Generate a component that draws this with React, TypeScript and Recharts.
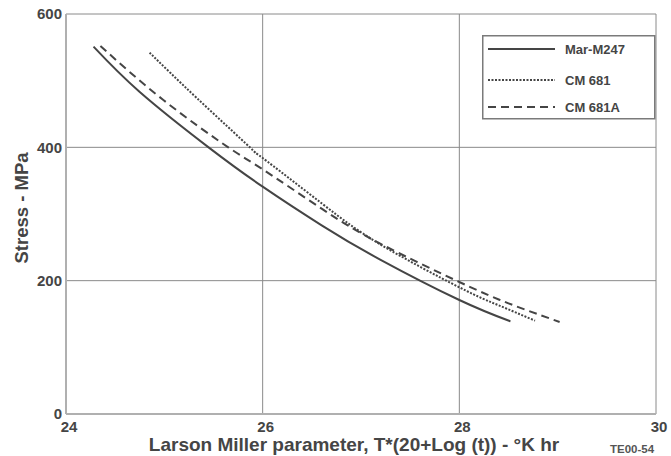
import { type FC } from "react";
import {
  LineChart,
  CartesianGrid,
  XAxis,
  YAxis,
  Line,
} from "recharts";

// Larson Miller parameter (x) vs stress in MPa (y)
const marM247Lmp = [24.28, 24.75, 25.45, 26.0, 26.6, 27.19, 28.0, 28.52];
const marM247Stress = [551, 483, 400, 341, 283, 232, 171, 139];

const cm681Lmp = [24.85, 25.33, 25.87, 26.0, 26.6, 27.19, 28.0, 28.4, 28.77];
const cm681Stress = [542, 474, 400, 384, 316, 255, 190, 163, 140];

const cm681aLmp = [24.35, 24.99, 25.65, 26.0, 26.6, 27.19, 28.0, 28.5, 29.02];
const cm681aStress = [552, 471, 400, 367, 308, 256, 198, 166, 138];

const xTicks = [24, 26, 28, 30];
const yTicks = [0, 200, 400, 600];

const toPoints = (xs: number[], ys: number[]) =>
  xs.map((x, i) => ({ x, y: ys[i] }));

const series = [
  { name: "Mar-M247", data: toPoints(marM247Lmp, marM247Stress), dash: undefined },
  { name: "CM 681", data: toPoints(cm681Lmp, cm681Stress), dash: "2 1.5" },
  { name: "CM 681A", data: toPoints(cm681aLmp, cm681aStress), dash: "8 5" },
];

const ink = "#454545";
const font = "'Liberation Sans', Arial, sans-serif";

// legend box drawn on top of the plot, top right
const LegendBox: FC = () => (
  <svg width={174} height={85} style={{ display: "block" }}>
    <rect x={0.75} y={0.75} width={172} height={83} fill="#fff" stroke="#7a7a7a" strokeWidth={1.5} />
    {series.map((s, i) => {
      const y = [14, 45, 72][i];
      return (
        <g key={s.name}>
          <line x1={6} x2={73} y1={y} y2={y} stroke={ink} strokeWidth={2} strokeDasharray={s.dash} />
          <text x={83} y={y + 4.5} fontSize={13} fontWeight="bold" fill={ink} fontFamily={font}>
            {s.name}
          </text>
        </g>
      );
    })}
  </svg>
);

const StressLabel = (props: any) => {
  const vb = props.viewBox || {};
  const cy = (vb.y ?? 14) + (vb.height ?? 400) / 2 - 6;
  return (
    <text
      x={21}
      y={cy}
      transform={`rotate(-90, 21, ${cy})`}
      textAnchor="middle"
      dominantBaseline="central"
      fill={ink}
      fontSize={18.5}
      fontWeight="bold"
      fontFamily={font}
    >
      Stress - MPa
    </text>
  );
};

export default function App() {
  return (
    <div style={{ position: "absolute", left: 0, top: 0, width: 671, height: 456, background: "#fff" }}>
      <LineChart
        width={671}
        height={456}
        margin={{ top: 14, right: 15, bottom: 0, left: 6 }}
        style={{ fontFamily: font }}
      >
        <CartesianGrid stroke="#8a8a8a" strokeWidth={1} />
        <XAxis
          type="number"
          dataKey="x"
          domain={[24, 30]}
          ticks={xTicks}
          height={42}
          tickLine={false}
          axisLine={{ stroke: "#b0b0b0", strokeWidth: 2 }}
          tick={{ fill: ink, fontSize: 15, fontWeight: "bold", dx: 3 }}
          tickSize={5}
          tickMargin={2}
          label={{
            value: "Larson Miller parameter, T*(20+Log (t)) - °K hr",
            position: "insideBottom",
            offset: 5,
            dx: -7,
            fill: ink,
            fontSize: 19,
            fontWeight: "bold",
          }}
        />
        <YAxis
          type="number"
          dataKey="y"
          domain={[0, 600]}
          ticks={yTicks}
          width={60}
          tickLine={false}
          axisLine={{ stroke: "#b0b0b0", strokeWidth: 2 }}
          tick={{ fill: ink, fontSize: 15, fontWeight: "bold" }}
          tickSize={2}
          tickMargin={2}
          label={{ content: StressLabel }}
        />
        {series.map((s) => (
          <Line
            key={s.name}
            data={s.data}
            dataKey="y"
            name={s.name}
            type="natural"
            stroke={ink}
            strokeWidth={2}
            strokeDasharray={s.dash}
            dot={false}
            activeDot={false}
            isAnimationActive={false}
          />
        ))}
      </LineChart>
      <div style={{ position: "absolute", left: 482, top: 35 }}>
        <LegendBox />
      </div>
      <div
        style={{
          position: "absolute",
          left: 610,
          top: 443,
          fontFamily: font,
          fontSize: 11.5,
          fontWeight: "bold",
          color: "#555",
          lineHeight: "12px",
        }}
      >
        TE00-54
      </div>
    </div>
  );
}
